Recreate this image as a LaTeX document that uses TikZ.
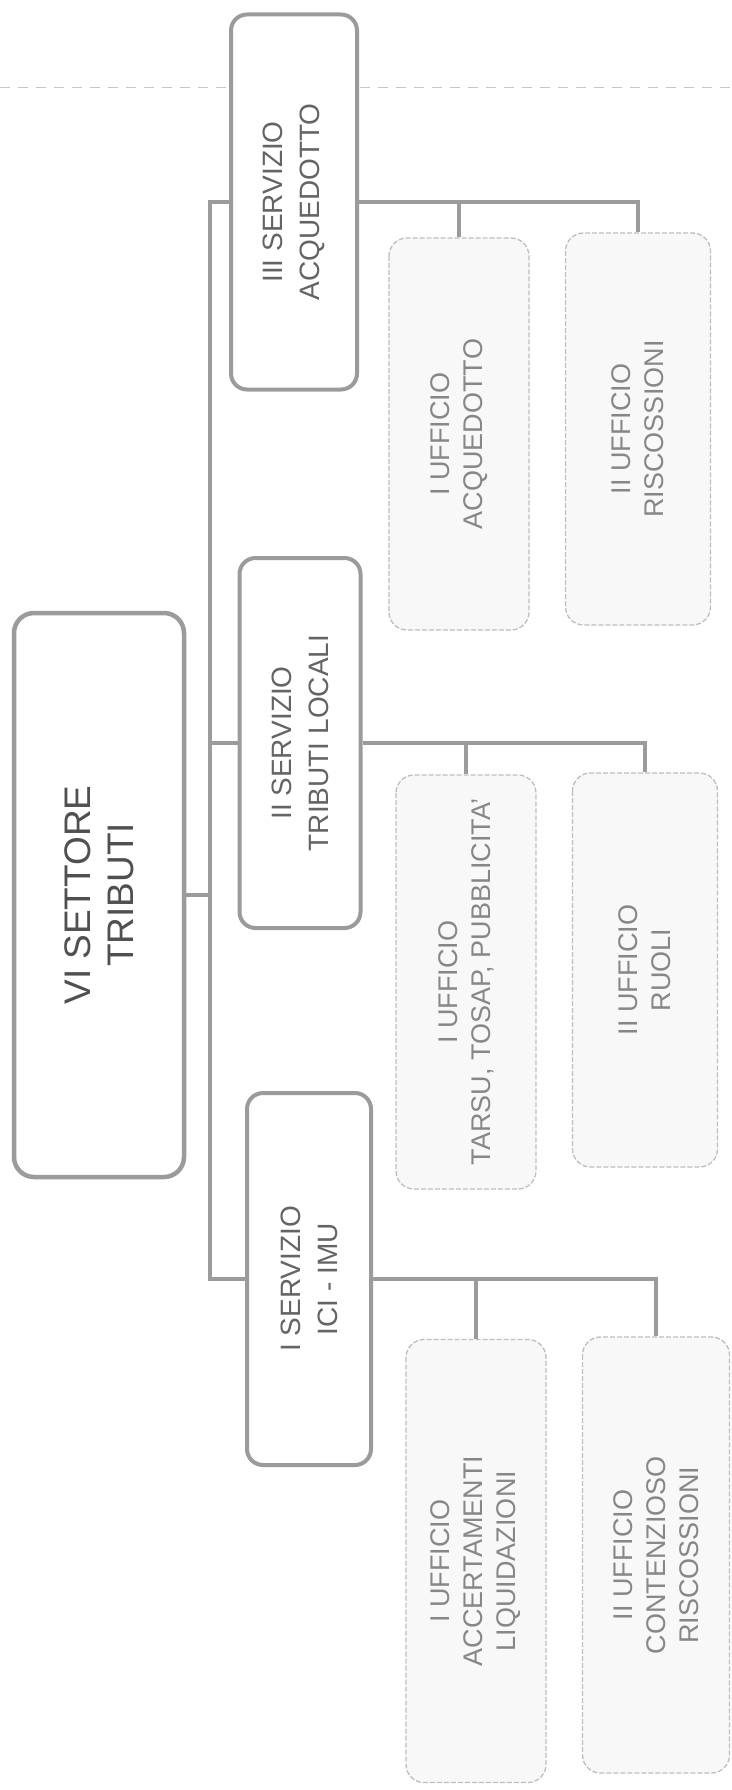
\documentclass[tikz,border=0pt]{standalone}
\usepackage{fontspec}
\setmainfont{Liberation Sans}
\definecolor{boxline}{RGB}{155,155,155}
\definecolor{uffline}{RGB}{190,190,190}
\definecolor{ufffill}{RGB}{248,248,248}
\definecolor{headtext}{RGB}{80,80,80}
\definecolor{servtext}{RGB}{100,100,100}
\definecolor{ufftext}{RGB}{135,135,135}

\begin{document}
\begin{tikzpicture}[x=1pt, y=-1pt,
  settore/.style={rotate=90, draw=boxline, line width=4.5pt, rounded corners=20pt,
        fill=white, text=headtext, align=center, inner sep=0pt,
        font=\fontsize{37}{43}\selectfont},
  servizio/.style={rotate=90, draw=boxline, line width=4pt, rounded corners=16pt,
        fill=white, text=servtext, align=center, inner sep=0pt,
        font=\fontsize{28}{37}\selectfont},
  ufficio/.style={rotate=90, draw=uffline, line width=1.3pt, dash pattern=on 5pt off 2pt,
        rounded corners=18pt, fill=ufffill, text=ufftext, align=center, inner sep=0pt,
        font=\fontsize{27}{33}\selectfont},
  link/.style={draw=boxline, line width=4.5pt},
  fold/.style={draw=gray!45, line width=1pt, dash pattern=on 10pt off 8pt}]
  \useasboundingbox (0,0) rectangle (731,1790);

  \coordinate (foldL) at (0,88);
  \coordinate (foldR) at (731,88);
  \draw[fold] (foldL) -- (foldR);

  \coordinate (trunk) at (210,0);

  \node[settore, minimum width=564pt, minimum height=170pt] (top) at (99,895)
    {VI SETTORE\\TRIBUTI};

  \node[servizio, minimum width=375pt, minimum height=126pt] (acq) at (294,202)
    {III SERVIZIO\\ACQUEDOTTO};
  \node[servizio, minimum width=370pt, minimum height=121pt] (loc) at (300,743)
    {II SERVIZIO\\TRIBUTI LOCALI};
  \node[servizio, minimum width=372pt, minimum height=124pt] (ici) at (309,1279)
    {I SERVIZIO\\ICI - IMU};

  \node[ufficio, minimum width=392pt, minimum height=140pt] (uacq) at (459,434)
    {I UFFICIO\\ACQUEDOTTO};
  \node[ufficio, minimum width=392pt, minimum height=145pt] (urisc) at (638,429)
    {II UFFICIO\\RISCOSSIONI};
  \node[ufficio, minimum width=414pt, minimum height=140pt] (utarsu) at (466,982)
    {I UFFICIO\\TARSU, TOSAP, PUBBLICITA'};
  \node[ufficio, minimum width=394pt, minimum height=145pt] (uruoli) at (645,970)
    {II UFFICIO\\RUOLI};
  \node[ufficio, minimum width=443pt, minimum height=140pt] (uacc) at (476,1561)
    {I UFFICIO\\ACCERTAMENTI\\LIQUIDAZIONI};
  \node[ufficio, minimum width=436pt, minimum height=147pt] (ucont) at (656,1555)
    {II UFFICIO\\CONTENZIOSO\\RISCOSSIONI};

  \draw[link] (acq.north) -- (acq.north -| trunk) -- (ici.north -| trunk) -- (ici.north);
  \draw[link] (loc.north) -- (loc.north -| trunk);
  \draw[link] (top.south) -- (top.south -| trunk);

  \draw[link] (acq.south) -| (urisc.east);
  \draw[link] (acq.south -| uacq.east) -- (uacq.east);
  \draw[link] (loc.south) -| (uruoli.east);
  \draw[link] (loc.south -| utarsu.east) -- (utarsu.east);
  \draw[link] (ici.south) -| (ucont.east);
  \draw[link] (ici.south -| uacc.east) -- (uacc.east);
\end{tikzpicture}
\end{document}
